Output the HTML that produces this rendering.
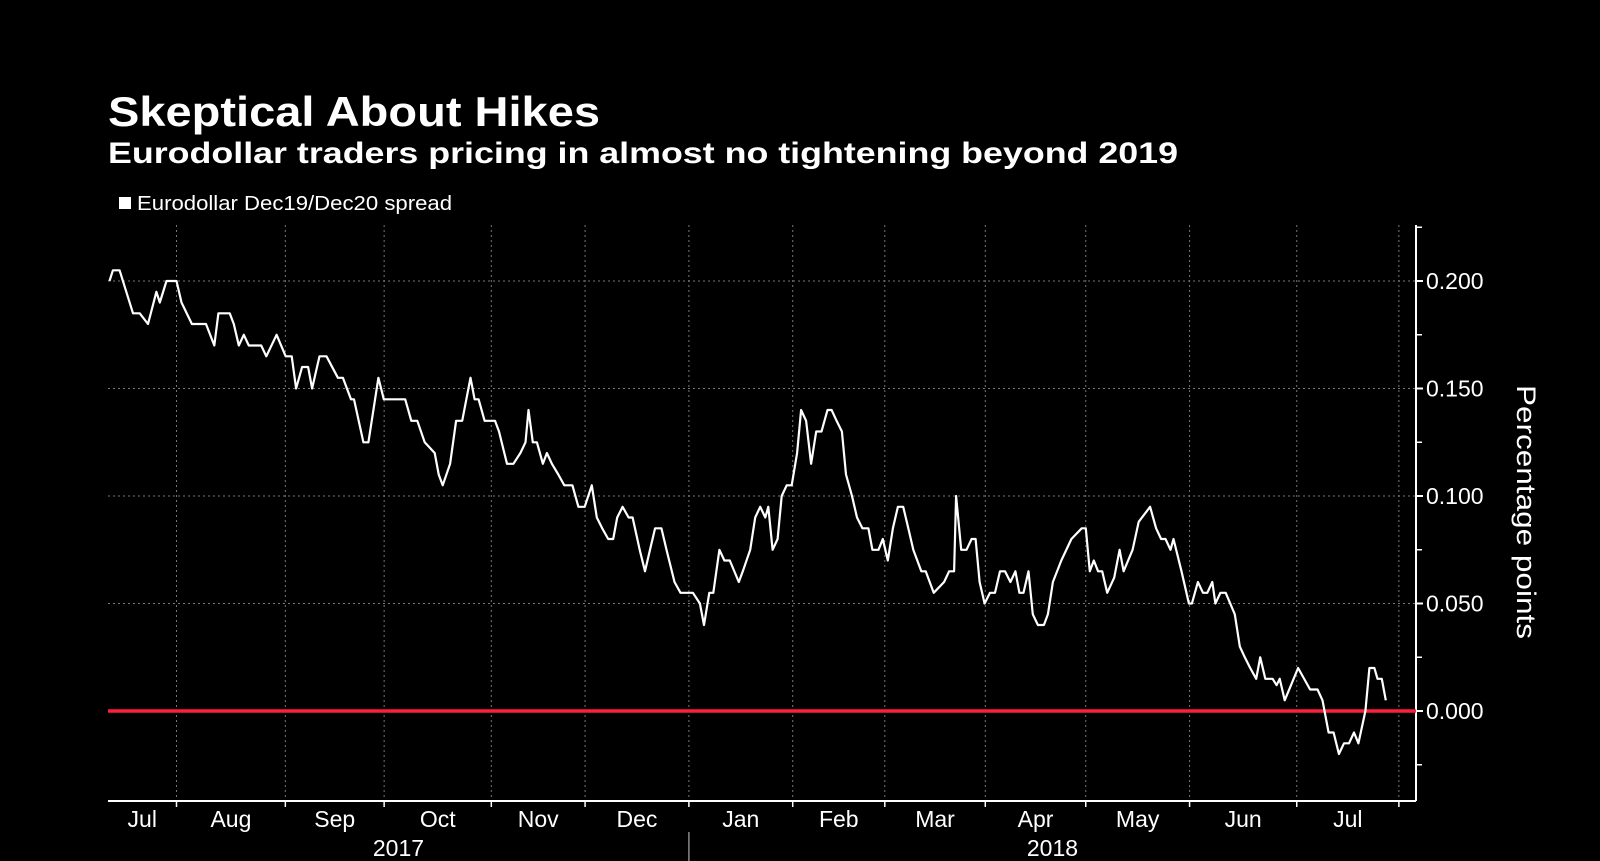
<!DOCTYPE html>
<html><head><meta charset="utf-8"><style>
html,body{margin:0;padding:0;background:#000;}
svg{display:block;font-family:"Liberation Sans",sans-serif;}
</style></head><body>
<svg id="chart" width="1600" height="861" viewBox="0 0 1600 861" xmlns="http://www.w3.org/2000/svg">
<rect width="1600" height="861" fill="#000"/>
<text x="108" y="126" fill="#fff" font-weight="bold" font-size="42" textLength="492" lengthAdjust="spacingAndGlyphs">Skeptical About Hikes</text>
<text x="108" y="163" fill="#fff" font-weight="bold" font-size="30" textLength="1070" lengthAdjust="spacingAndGlyphs">Eurodollar traders pricing in almost no tightening beyond 2019</text>
<g>
<rect x="119" y="197" width="12" height="12" fill="#fff"/>
<text x="137" y="210" fill="#fff" font-size="20" textLength="315" lengthAdjust="spacingAndGlyphs">Eurodollar Dec19/Dec20 spread</text>
</g>
<g id="grid"></g>
<g id="axes"></g>
<path id="series" fill="none" stroke="#fff" stroke-width="2.2" stroke-linejoin="round"/>
<text transform="translate(1517,512) rotate(90)" text-anchor="middle" fill="#fff" font-size="27" textLength="254" lengthAdjust="spacingAndGlyphs">Percentage points</text>
</svg>
<script>
// day offsets from 2017-07-01
const days=[11,12,14,16,18,20,22.5,25,26,28,31,32.5,35.6,39.8,42.3,43.5,46.9,48.1,49.6,51.1,52.6,56.3,57.8,60.9,63.6,65.4,66.7,68.5,70.3,71.5,73.7,75.8,79.2,80.7,83.1,84,86.8,88.3,91.3,92.9,99.3,101.1,102.9,105.1,108.1,109.3,110.5,112.7,114.5,116.3,118.8,120,121.2,123,126.1,127.3,129.7,131.6,133.7,135.2,136.1,137.4,138.6,140.4,141.6,143.1,145,146.8,149.2,151,152.9,155,156.5,158.1,159.9,161.4,162.6,164.2,166,167.2,169.3,170.9,172.4,173.9,175.8,177.3,179.7,181.5,185.2,187.3,188.5,190.1,191.3,193.1,194.6,196.2,198.9,200.1,202.3,203.8,205.3,206.8,207.7,209,210.5,211.7,213.2,214.7,216.3,217.5,219,220.5,222,223.6,225.4,226.6,228.1,229.7,230.9,232.7,234.2,235.8,237.6,238.8,240.6,241.9,243.4,244.9,246.4,248,249.5,251,253.4,254.7,257.1,260.2,261.7,263.2,263.8,265.3,266.9,268.4,269.6,270.8,272.3,273.9,275.4,276.9,278.4,280,281.5,282.7,283.9,285.4,286.7,288.2,290,291.2,292.7,295.2,298.2,301.3,302.5,303.7,304.9,306.2,307.4,308.9,311,312.6,313.8,316.5,318.3,321.7,323.5,325,326.3,327.8,328.7,331.1,333.3,334.2,336,337.5,338.8,340.3,341.2,342.7,344.3,347,348.5,350,351.6,353.4,354.6,356.1,358.3,359.5,360.4,361.9,363.8,365.9,369.5,371.7,373.2,375,376.5,378.1,379.6,381.1,382.6,383.9,386,387.2,388.7,389.6,390.9,392.1];
const values=[.200,.205,.205,.195,.185,.185,.18,.195,.19,.2,.2,.19,.18,.18,.17,.185,.185,.18,.17,.175,.17,.17,.165,.175,.165,.165,.15,.16,.16,.15,.165,.165,.155,.155,.145,.145,.125,.125,.155,.145,.145,.135,.135,.125,.12,.11,.105,.115,.135,.135,.155,.145,.145,.135,.135,.13,.115,.115,.12,.125,.14,.125,.125,.115,.12,.115,.11,.105,.105,.095,.095,.105,.09,.085,.08,.08,.09,.095,.09,.09,.075,.065,.075,.085,.085,.075,.06,.055,.055,.05,.04,.055,.055,.075,.07,.07,.06,.065,.075,.09,.095,.09,.095,.075,.08,.1,.105,.105,.12,.14,.135,.115,.13,.13,.14,.14,.135,.13,.11,.1,.09,.085,.085,.075,.075,.08,.07,.085,.095,.095,.085,.075,.065,.065,.055,.06,.065,.065,.1,.075,.075,.08,.08,.06,.05,.055,.055,.065,.065,.06,.065,.055,.055,.065,.045,.04,.04,.045,.06,.07,.08,.085,.085,.065,.07,.065,.065,.055,.062,.075,.065,.075,.088,.095,.085,.08,.08,.075,.08,.065,.05,.05,.06,.055,.055,.06,.05,.055,.055,.045,.03,.025,.02,.015,.025,.015,.015,.012,.015,.005,.012,.02,.01,.01,.005,-.01,-.01,-.02,-.015,-.015,-.01,-.015,0,.02,.02,.015,.015,.005];
const monthLabels=["Jul","Aug","Sep","Oct","Nov","Dec","Jan","Feb","Mar","Apr","May","Jun","Jul"];
const monthStarts=[0,31,63.5,93,125,153,184,215,242.5,272.5,302.5,333.5,365.5,396];
const yTicks=[0,0.05,0.1,0.15,0.2];
const yTickLabels=["0.000","0.050","0.100","0.150","0.200"];
const yMinorTicks=[-0.025,0.025,0.075,0.125,0.175,0.225];
const years=["2017","2018"];

const L=108,R=1416,T=225,B=801;
const x=d=>176.5+(d-31)*3.349;
const y=v=>711-v*2150;
const NS="http://www.w3.org/2000/svg";
const grid=document.getElementById('grid'),axes=document.getElementById('axes');
function mk(tag,attrs,parent){const e=document.createElementNS(NS,tag);for(const k in attrs)e.setAttribute(k,attrs[k]);parent.appendChild(e);return e;}

yTicks.forEach((v,i)=>{
  const g=mk('line',{x1:L,x2:R,y1:y(v),y2:y(v),stroke:'#777','stroke-width':1,'stroke-dasharray':'2,3'},grid);
  
  
  const t=mk('line',{x1:R,x2:R+7,y1:y(v),y2:y(v),stroke:'#fff','stroke-width':2},axes);
  
  
  const l=mk('text',{x:R+10,y:y(v)+8,fill:'#fff','font-size':23},axes);
  l.textContent=yTickLabels[i];
  
  
});
yMinorTicks.forEach(v=>{
  const t=mk('line',{x1:R,x2:R+6,y1:y(v),y2:y(v),stroke:'#fff','stroke-width':1.5},axes);
  
  
});
monthStarts.forEach((d,i)=>{
  const X=x(d);
  if(X>L+2&&X<R){
    const g=mk('line',{x1:X,x2:X,y1:T,y2:B,stroke:'#777','stroke-width':1,'stroke-dasharray':'2,3'},grid);
    
    
    const t=mk('line',{x1:X,x2:X,y1:B,y2:B+6,stroke:'#fff','stroke-width':1.5},axes);
    
    
  }
  if(i<monthLabels.length){
    const cx=(Math.max(x(d),L)+Math.min(x(monthStarts[i+1]),R))/2;
    const l=mk('text',{x:cx,y:827,fill:'#fff','font-size':23,'text-anchor':'middle'},axes);
    l.textContent=monthLabels[i];
    
    
  }
});
const yl1=mk('text',{x:(L+x(184))/2,y:856,fill:'#fff','font-size':23,'text-anchor':'middle'},axes);
yl1.textContent=years[0];


const yl2=mk('text',{x:(x(184)+R)/2,y:856,fill:'#fff','font-size':23,'text-anchor':'middle'},axes);
yl2.textContent=years[1];


const div=mk('line',{x1:x(184),x2:x(184),y1:832,y2:861,stroke:'#888','stroke-width':1.5},axes);


const xa=mk('line',{x1:L,x2:R,y1:B,y2:B,stroke:'#fff','stroke-width':2},axes);


const ya=mk('line',{x1:R,x2:R,y1:T,y2:B,stroke:'#fff','stroke-width':2},axes);


const zl=mk('line',{x1:L,x2:R,y1:y(0),y2:y(0),stroke:'#ff1f3d','stroke-width':3.5},axes);



document.getElementById('series').setAttribute('d',days.map((d,i)=>(i?'L':'M')+x(d).toFixed(1)+','+y(values[i]).toFixed(1)).join(''));
</script>
</body></html>
